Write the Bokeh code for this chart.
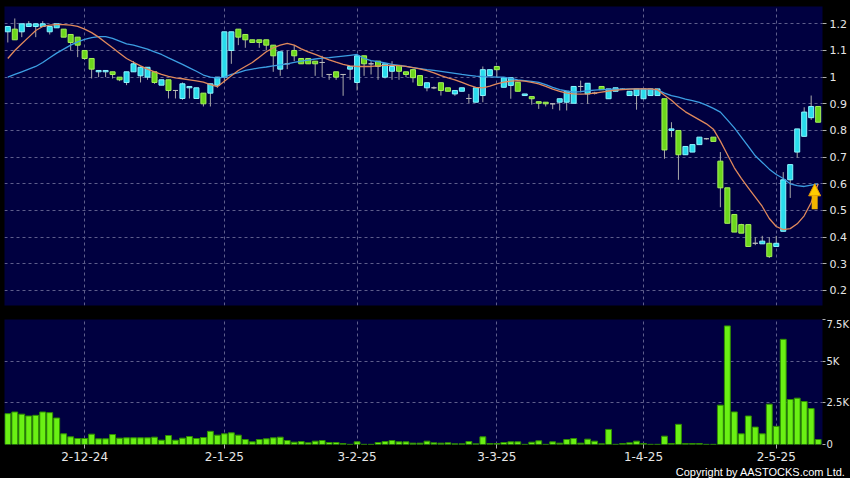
import numpy as np
from bokeh.plotting import figure
from bokeh.layouts import column
from bokeh.models import ColumnDataSource, FixedTicker, Range1d, Title, Arrow, NormalHead
from bokeh.embed import file_html
from bokeh.resources import INLINE

# ---------------- data ----------------
open_ = [1.17, 1.18, 1.17, 1.19, 1.19, 1.19, 1.17, 1.185, 1.18, 1.16,
         1.15, 1.10, 1.07, 1.02, 1.02, 1.02, 1.00, 0.98, 1.02, 1.005,
         1.00, 1.02, 0.97, 0.99, 0.95, 0.92, 0.96, 0.92, 0.94, 0.94,
         0.97, 1.00, 1.10, 1.18, 1.16, 1.14, 1.14, 1.14, 1.12, 1.03,
         1.05, 1.10, 1.07, 1.07, 1.06, 1.055, 1.01, 1.02, 1.01, 1.03,
         0.98, 1.08, 1.05, 1.06, 1.00, 1.022, 1.044, 1.02, 1.028, 1.006,
         0.96, 0.96, 0.979, 0.96, 0.937, 0.947, 0.92, 0.906, 0.931, 1.006,
         1.04, 0.962, 0.969, 0.981, 0.931, 0.927, 0.908, 0.906, 0.90, 0.906,
         0.906, 0.902, 0.965, 0.937, 0.94, 0.965, 0.919, 0.947, 0.955, 0.931,
         0.931, 0.919, 0.931, 0.931, 0.919, 0.80, 0.80, 0.709, 0.719, 0.747,
         0.769, 0.775, 0.685, 0.585, 0.485, 0.447, 0.447, 0.377, 0.375, 0.377,
         0.365, 0.422, 0.615, 0.719, 0.778, 0.848, 0.89]
high = [1.19, 1.22, 1.20, 1.21, 1.20, 1.21, 1.19, 1.20, 1.18, 1.16,
        1.15, 1.10, 1.07, 1.025, 1.025, 1.02, 1.00, 1.02, 1.06, 1.04,
        1.037, 1.02, 0.99, 0.99, 0.95, 0.98, 0.965, 0.96, 0.94, 0.975,
        1.00, 1.17, 1.17, 1.18, 1.16, 1.14, 1.14, 1.14, 1.12, 1.095,
        1.10, 1.12, 1.07, 1.07, 1.06, 1.08, 1.01, 1.02, 1.01, 1.04,
        1.08, 1.08, 1.06, 1.06, 1.05, 1.06, 1.044, 1.02, 1.028, 1.006,
        0.979, 0.965, 0.979, 0.96, 0.95, 0.96, 0.937, 0.96, 1.04, 1.028,
        1.04, 0.998, 0.998, 0.981, 0.937, 0.927, 0.908, 0.906, 0.90, 0.919,
        0.947, 0.965, 0.987, 0.977, 0.945, 0.965, 0.956, 0.96, 0.958, 0.947,
        0.956, 0.956, 0.956, 0.956, 0.919, 0.831, 0.80, 0.74, 0.747, 0.775,
        0.772, 0.775, 0.719, 0.585, 0.485, 0.45, 0.447, 0.40, 0.405, 0.40,
        0.405, 0.644, 0.672, 0.806, 0.887, 0.931, 0.89]
low = [1.13, 1.14, 1.15, 1.19, 1.15, 1.19, 1.16, 1.185, 1.15, 1.10,
       1.075, 1.065, 0.995, 1.00, 1.00, 0.995, 0.985, 0.97, 1.02, 0.98,
       0.99, 0.975, 0.97, 0.92, 0.92, 0.915, 0.92, 0.92, 0.89, 0.89,
       0.96, 0.98, 1.05, 1.12, 1.11, 1.13, 1.11, 1.10, 1.02, 1.005,
       1.03, 1.06, 1.05, 1.05, 1.005, 1.00, 0.99, 0.99, 0.93, 0.99,
       0.95, 1.005, 1.01, 0.99, 0.995, 0.99, 0.99, 1.00, 0.98, 0.969,
       0.947, 0.955, 0.931, 0.947, 0.93, 0.947, 0.902, 0.906, 0.906, 1.006,
       1.00, 0.962, 0.919, 0.947, 0.931, 0.897, 0.881, 0.89, 0.88, 0.875,
       0.875, 0.902, 0.943, 0.90, 0.935, 0.953, 0.919, 0.947, 0.952, 0.931,
       0.878, 0.919, 0.931, 0.931, 0.694, 0.775, 0.615, 0.709, 0.719, 0.747,
       0.766, 0.759, 0.512, 0.452, 0.419, 0.415, 0.365, 0.37, 0.375, 0.322,
       0.365, 0.422, 0.547, 0.698, 0.778, 0.84, 0.831]
close = [1.19, 1.14, 1.20, 1.20, 1.20, 1.20, 1.19, 1.20, 1.15, 1.13,
         1.12, 1.07, 1.03, 1.025, 1.025, 1.01, 0.99, 1.02, 1.05, 1.037,
         1.037, 0.98, 0.99, 0.95, 0.95, 0.975, 0.965, 0.96, 0.90, 0.975,
         1.00, 1.17, 1.17, 1.15, 1.14, 1.13, 1.13, 1.12, 1.08, 1.095,
         1.05, 1.08, 1.05, 1.05, 1.05, 1.055, 1.01, 1.00, 1.01, 1.04,
         1.08, 1.05, 1.05, 1.04, 1.05, 1.04, 1.022, 1.01, 0.998, 0.969,
         0.979, 0.96, 0.95, 0.947, 0.95, 0.96, 0.92, 0.96, 1.028, 1.028,
         1.028, 0.998, 0.998, 0.947, 0.937, 0.919, 0.902, 0.90, 0.90, 0.919,
         0.947, 0.965, 0.965, 0.977, 0.94, 0.953, 0.956, 0.96, 0.955, 0.947,
         0.956, 0.956, 0.956, 0.956, 0.727, 0.806, 0.709, 0.74, 0.747, 0.775,
         0.769, 0.759, 0.585, 0.452, 0.419, 0.415, 0.365, 0.377, 0.385, 0.327,
         0.377, 0.615, 0.672, 0.806, 0.869, 0.89, 0.831]
volume = [1850, 1950, 1820, 1710, 1750, 1950, 1910, 1590, 640, 460,
          360, 360, 620, 340, 340, 600, 380, 400, 400, 400,
          400, 440, 260, 540, 260, 380, 480, 360, 420, 790,
          560, 640, 700, 560, 300, 160, 300, 340, 400, 440,
          240, 140, 180, 100, 200, 240, 120, 120, 60, 10,
          160, 10, 10, 120, 180, 240, 160, 160, 80, 80,
          200, 100, 80, 100, 40, 40, 180, 40, 460, 60,
          60, 120, 160, 160, 10, 140, 220, 10, 160, 80,
          300, 360, 80, 320, 200, 40, 905, 10, 60, 100,
          200, 60, 10, 10, 500, 60, 1210, 60, 60, 60,
          10, 10, 2360, 7115, 1955, 640, 1710, 1045, 640, 2420,
          1090, 6310, 2700, 2780, 2580, 2155, 300]
ma10 = [1.07, 1.10, 1.125, 1.15, 1.175, 1.19, 1.195, 1.197, 1.197, 1.195,
        1.19, 1.18, 1.167, 1.15, 1.13, 1.11, 1.09, 1.07, 1.056, 1.042,
        1.03, 1.02, 1.01, 1.003, 0.997, 0.994, 0.99, 0.986, 0.981, 0.972,
        0.964, 0.985, 1.005, 1.025, 1.04, 1.055, 1.075, 1.095, 1.11, 1.12,
        1.127, 1.12, 1.106, 1.095, 1.085, 1.075, 1.065, 1.056, 1.048, 1.042,
        1.04, 1.04, 1.04, 1.042, 1.044, 1.044, 1.043, 1.04, 1.036, 1.031,
        1.024, 1.016, 1.006, 0.997, 0.99, 0.98, 0.97, 0.962, 0.96, 0.966,
        0.975, 0.981, 0.985, 0.987, 0.985, 0.98, 0.975, 0.965, 0.955, 0.947,
        0.94, 0.937, 0.936, 0.937, 0.94, 0.944, 0.948, 0.951, 0.953, 0.955,
        0.956, 0.956, 0.956, 0.953, 0.932, 0.913, 0.89, 0.87, 0.855, 0.84,
        0.825, 0.805, 0.76, 0.71, 0.66, 0.62, 0.585, 0.55, 0.515, 0.47,
        0.44, 0.428, 0.432, 0.45, 0.48, 0.53, 0.60]
ma20 = [1.00, 1.01, 1.02, 1.03, 1.04, 1.055, 1.073, 1.09, 1.105, 1.12,
        1.132, 1.142, 1.148, 1.152, 1.152, 1.145, 1.135, 1.125, 1.12, 1.113,
        1.105, 1.095, 1.085, 1.072, 1.06, 1.048, 1.035, 1.022, 1.008, 1.00,
        0.996, 1.00, 1.01, 1.017, 1.025, 1.03, 1.035, 1.038, 1.042, 1.046,
        1.05, 1.055, 1.06, 1.064, 1.068, 1.071, 1.073, 1.076, 1.079, 1.082,
        1.085, 1.07, 1.062, 1.058, 1.053, 1.048, 1.044, 1.04, 1.036, 1.032,
        1.028, 1.025, 1.022, 1.018, 1.014, 1.01, 1.007, 1.004, 1.002, 1.001,
        1.00, 1.00, 0.995, 0.99, 0.987, 0.984, 0.98, 0.972, 0.962, 0.953,
        0.948, 0.944, 0.946, 0.949, 0.951, 0.953, 0.954, 0.955, 0.955, 0.956,
        0.956, 0.955, 0.954, 0.952, 0.94, 0.931, 0.925, 0.918, 0.912, 0.905,
        0.895, 0.883, 0.869, 0.84, 0.81, 0.775, 0.74, 0.705, 0.68, 0.655,
        0.635, 0.62, 0.60, 0.593, 0.59, 0.595, 0.60]

date_tick_pos = [11, 31, 50, 70, 91, 110]
date_tick_labels = ["2-12-24", "2-1-25", "3-2-25", "3-3-25", "1-4-25", "2-5-25"]
price_ticks = [0.2, 0.3, 0.4, 0.5, 0.6, 0.7, 0.8, 0.9, 1.0, 1.1, 1.2]
price_tick_labels = ["0.2", "0.3", "0.4", "0.5", "0.6", "0.7", "0.8", "0.9", "1", "1.1", "1.2"]
vol_ticks = [0, 2500, 5000, 7500]
vol_tick_labels = ["0", "2.5K", "5K", "7.5K"]
signal_x = [115.5]
signal_from = [0.505]
signal_to = [0.60]
copyright_text = "Copyright by AASTOCKS.com Ltd."

# ---------------- derived sources ----------------
n = len(close)
xs = np.arange(n)
o = np.array(open_); c = np.array(close)
top = np.maximum(o, c); bottom = np.minimum(o, c)
UP_FILL, UP_EDGE = "#29dcec", "#8ef6ff"
DN_FILL, DN_EDGE = "#6cd81c", "#a6f25a"
fill = [UP_FILL if cc > oo else (DN_FILL if cc < oo else "#aaaaaa") for oo, cc in zip(open_, close)]
edge = [UP_EDGE if cc > oo else (DN_EDGE if cc < oo else "#bbbbbb") for oo, cc in zip(open_, close)]
src = ColumnDataSource(dict(x=xs, o=o, c=c, h=high, l=low, top=top, bottom=bottom,
                            fill=fill, edge=edge, vol=volume, ma10=ma10, ma20=ma20))

FONT = "DejaVu Sans"
NAVY = "#000040"
GRID = "#5e5e8c"
FRAME_W = 818

xr = Range1d(-0.472, 116.62)

def style(fig):
    fig.background_fill_color = NAVY
    fig.border_fill_color = "black"
    fig.outline_line_color = None
    for g in (fig.xgrid, fig.ygrid):
        g.grid_line_color = GRID
        g.grid_line_dash = "3 3"
        g.grid_line_width = 1
    for ax in (fig.xaxis, fig.yaxis):
        ax.axis_line_color = None
        ax.major_tick_line_color = "#b0b0b0"
        ax.major_tick_in = 0
        ax.major_tick_out = 4
        ax.minor_tick_line_color = None
        ax.major_label_text_color = "#e6e6e6"
        ax.major_label_text_font = FONT
    fig.yaxis.major_label_text_font_size = "11px"
    fig.yaxis.major_label_standoff = 3
    fig.xaxis.ticker = FixedTicker(ticks=date_tick_pos)
    fig.xgrid.ticker = FixedTicker(ticks=date_tick_pos)
    fig.xaxis.major_label_overrides = dict(zip(date_tick_pos, date_tick_labels))

# ---------------- price panel ----------------
p = figure(frame_width=FRAME_W, frame_height=299, x_range=xr, y_range=Range1d(0.1437, 1.2649),
           output_backend="svg", toolbar_location=None, y_axis_location="right",
           min_border_left=4, min_border_right=28, min_border_top=6, min_border_bottom=13)
style(p)
p.xaxis.visible = False
p.yaxis.ticker = FixedTicker(ticks=price_ticks)
p.ygrid.ticker = FixedTicker(ticks=price_ticks)
p.yaxis.major_label_overrides = dict(zip(price_ticks, price_tick_labels))

p.segment(x0="x", y0="l", x1="x", y1="h", source=src, line_color="#a8a8a8", line_width=1)
p.vbar(x="x", width=0.72, top="top", bottom="bottom", source=src,
       fill_color="fill", line_color="edge", line_width=1)
p.line(x="x", y="ma20", source=src, line_color="#3c9ee2", line_width=1.3)
p.line(x="x", y="ma10", source=src, line_color="#e0895c", line_width=1.3)

sig = ColumnDataSource(dict(x0=signal_x, y0=signal_from, x1=signal_x, y1=signal_to))
p.add_layout(Arrow(end=NormalHead(size=12, fill_color="#ffcc00", line_color="#e89a00", line_width=1),
                   x_start="x0", y_start="y0", x_end="x1", y_end="y1", source=sig,
                   line_color="#f2b400", line_width=6))

# ---------------- volume panel ----------------
pv = figure(frame_width=FRAME_W, frame_height=125, x_range=xr, y_range=Range1d(0, 7500),
            output_backend="svg", toolbar_location=None, y_axis_location="right",
            min_border_left=4, min_border_right=28, min_border_top=1, min_border_bottom=34)
style(pv)
pv.yaxis.ticker = FixedTicker(ticks=vol_ticks)
pv.ygrid.ticker = FixedTicker(ticks=vol_ticks)
pv.yaxis.major_label_overrides = dict(zip(vol_ticks, vol_tick_labels))
pv.yaxis.major_label_text_font_size = "10px"
pv.yaxis.major_tick_out = 3
pv.yaxis.major_label_standoff = 1
pv.xaxis.major_label_text_font_size = "12px"
pv.xaxis.major_label_standoff = 3

pv.vbar(x="x", width=0.84, top="vol", bottom=0, source=src,
        fill_color="#6af014", line_color="#2f8f00", line_width=1)

pv.add_layout(Title(text=copyright_text, align="right", offset=-23, standoff=0,
                    text_font="Liberation Sans", text_font_size="11px", text_font_style="normal",
                    text_color="#ffffff"), "below")

layout = column(p, pv, spacing=0)
html = file_html(layout, INLINE, title="AASTOCKS chart")
html = html.replace("</head>", "<style>html,body{background:#000000;overflow:hidden;}</style></head>", 1)
open("out.html", "w").write(html)
